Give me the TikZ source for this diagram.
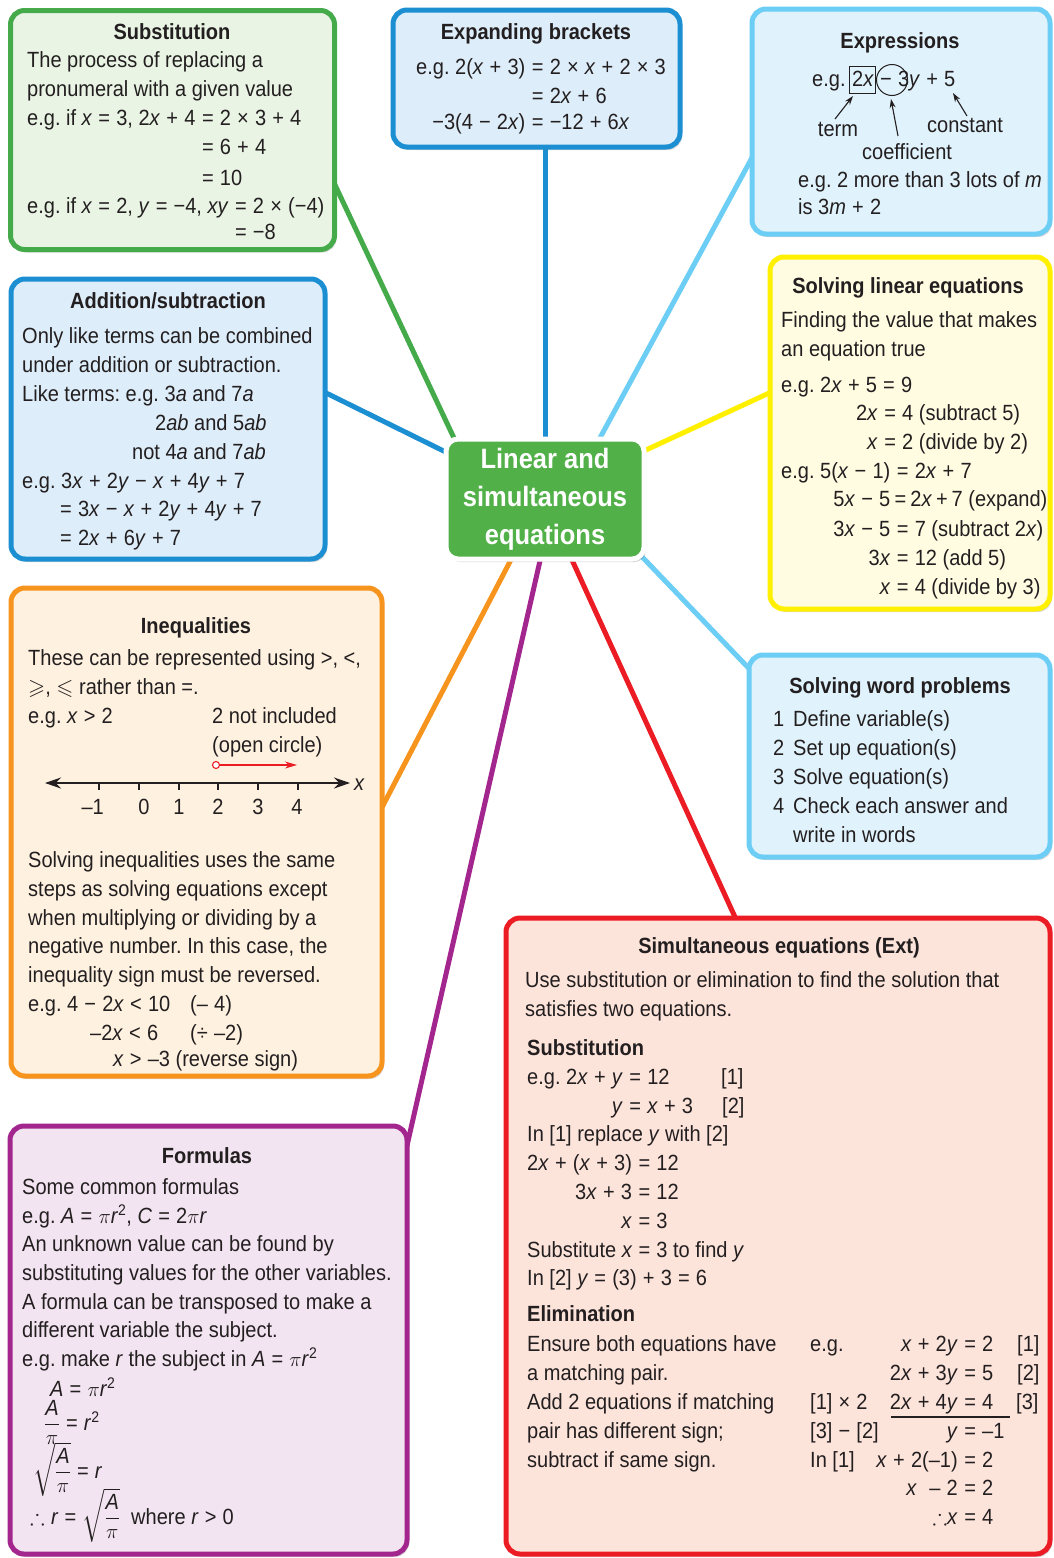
\documentclass[tikz,border=0pt]{standalone}
\usepackage{amsmath,amssymb}
\usepackage{fontspec}
\setmainfont{Liberation Sans}[FakeStretch=0.91]
\usetikzlibrary{arrows.meta,shadows,backgrounds}

\definecolor{cgreen}{RGB}{68,170,74}
\definecolor{fgreen}{RGB}{233,244,229}
\definecolor{cblue}{RGB}{28,143,211}
\definecolor{fblue}{RGB}{221,237,249}
\definecolor{clblue}{RGB}{108,205,245}
\definecolor{flblue}{RGB}{224,242,251}
\definecolor{cyellow}{RGB}{255,240,0}
\definecolor{fyellow}{RGB}{255,252,226}
\definecolor{corange}{RGB}{247,148,30}
\definecolor{forange}{RGB}{254,241,224}
\definecolor{cred}{RGB}{236,28,36}
\definecolor{fred}{RGB}{253,228,219}
\definecolor{cpurple}{RGB}{163,38,143}
\definecolor{fpurple}{RGB}{242,228,240}
\definecolor{cgfill}{RGB}{82,176,72}
\definecolor{ink}{RGB}{35,31,32}

\newcommand{\fs}{\fontsize{22}{26}\selectfont\frenchspacing}
\newcommand{\og}{\kern0.28em}
\newcommand{\ogs}{\kern0.18em}
\newcommand{\eq}{\og=\og}
\newcommand{\pl}{\og+\og}
\newcommand{\mn}{\og−\og}
\newcommand{\tm}{\og×\og}
\newcommand{\iv}[1]{\textit{#1}}
\newcounter{tn}
\newcommand{\Tl}[3]{\stepcounter{tn}\node[txt,anchor=base west] (t\thetn) at (#1,#2) {#3};}
\newcommand{\Tr}[3]{\stepcounter{tn}\node[txt,anchor=base east] (t\thetn) at (#1,#2) {#3};}
\newcommand{\Tc}[3]{\stepcounter{tn}\node[txt,anchor=base] (t\thetn) at (#1,#2) {#3};}
\newcommand{\Hd}[3]{\stepcounter{tn}\node[txt,anchor=base,font=\fs\bfseries] (t\thetn) at (#1,#2) {#3};}
\newcommand{\Bl}[3]{\stepcounter{tn}\node[txt,anchor=base west,font=\fs\bfseries] (t\thetn) at (#1,#2) {#3};}
\newcommand{\Pair}[4]{\Tr{#1}{#2}{#3}\Tl{#1}{#2}{#4}}
\newcommand{\EqA}[5]{\node[txt,anchor=base west] (#1) at (#2,#3) {#4};\node[txt,anchor=base west] (#1r) at (#1.base east) {#5};}
\newcommand{\EqB}[4]{\coordinate (#1y#2) at (0,#2);\node[txt,anchor=base east] (#1l#2) at (#1.base east |- #1y#2) {#3};\node[txt,anchor=base west] (#1c#2) at (#1.base east |- #1y#2) {#4};}

\tikzset{
  txt/.style={font=\fs, inner sep=0pt, text=ink},
  box/.style={draw=#1, line width=5pt, rounded corners=14pt, inner sep=0pt, outer sep=0pt,
    drop shadow={shadow xshift=2pt, shadow yshift=-3pt, opacity=0.25, fill=black!60}},
  ctrbox/.style={draw=white, line width=5pt, fill=cgfill, rounded corners=12pt,
    minimum width=198pt, minimum height=120pt, align=center, text=white, inner sep=0pt,
    font=\bfseries\fontsize{28}{38}\selectfont,
    drop shadow={shadow xshift=2pt, shadow yshift=-3pt, opacity=0.3, fill=black!60}},
  conn/.style={line width=5pt, draw=#1},
  parr/.style={line width=1.1pt, draw=ink, -{Stealth[length=9pt,width=6pt]}},
  numline/.style={line width=1.6pt, draw=ink, {Stealth[length=16pt,width=11pt]}-{Stealth[length=16pt,width=11pt]}},
  redarr/.style={line width=1.1pt, draw=cred, -{Stealth[length=12pt,width=7pt]}},
  tickm/.style={line width=1.3pt, draw=ink}
}

\begin{document}
\begin{tikzpicture}[x=1pt,y=-1pt]
\useasboundingbox (0,0) rectangle (1053,1558);

% ---------- boxes ----------
\node[box=cgreen, fill=fgreen, minimum width=324pt, minimum height=239pt] (sub) at (172.5,130) {};
\node[box=cblue, fill=fblue, minimum width=287pt, minimum height=137pt] (expb) at (536.5,78.5) {};
\node[box=clblue, fill=flblue, minimum width=298pt, minimum height=225pt] (expr) at (901,121.5) {};
\node[box=cblue, fill=fblue, minimum width=314pt, minimum height=280pt] (addb) at (168,419) {};
\node[box=cyellow, fill=fyellow, minimum width=280pt, minimum height=352pt] (lin) at (910,433) {};
\node[box=corange, fill=forange, minimum width=371pt, minimum height=488pt] (ineq) at (196.5,832) {};
\node[box=clblue, fill=flblue, minimum width=301pt, minimum height=202pt] (word) at (899.5,756) {};
\node[box=cred, fill=fred, minimum width=544pt, minimum height=636pt] (sim) at (778,1236) {};
\node[box=cpurple, fill=fpurple, minimum width=397pt, minimum height=428pt] (form) at (208.5,1340) {};
\node[ctrbox] (ctr) at (545,499) {Linear and\\simultaneous\\equations};

% ---------- connectors ----------
\coordinate (gA) at (325.6,165); \coordinate (gB) at (469,470);
\coordinate (bA) at (545,140);   \coordinate (bB) at (545,450);
\coordinate (eA) at (760,143);   \coordinate (eB) at (588,460);
\coordinate (aA) at (316,388);   \coordinate (aB) at (470,464);
\coordinate (yA) at (780,388);   \coordinate (yB) at (620,462);
\coordinate (wA) at (625,539);   \coordinate (wB) at (760,680);
\coordinate (rA) at (567,549);   \coordinate (rB) at (740,928);
\coordinate (oA) at (515,552);   \coordinate (oB) at (378,815);
\coordinate (pA) at (542,552);   \coordinate (pB) at (406,1150);
\begin{scope}[on background layer]
  \fill[white] (0,0) rectangle (1053,1558);
  \draw[conn=cgreen] (gA) -- (gB);
  \draw[conn=cblue] (bA) -- (bB);
  \draw[conn=clblue] (eA) -- (eB);
  \draw[conn=cblue] (aA) -- (aB);
  \draw[conn=cyellow] (yA) -- (yB);
  \draw[conn=clblue] (wA) -- (wB);
  \draw[conn=cred] (rA) -- (rB);
  \draw[conn=corange] (oA) -- (oB);
  \draw[conn=cpurple] (pA) -- (pB);
\end{scope}

% ---------- Substitution ----------
\Hd{172}{39}{Substitution}
\Tl{27}{67}{The process of replacing a}
\Tl{27}{96}{pronumeral with a given value}
\EqA{sa}{27}{125}{e.g. if \iv{x}\eq 3, 2\iv{x}\pl 4}{\og=\og 2\tm 3\pl 4}
\EqB{sa}{154}{}{\og=\og 6\pl 4}
\EqB{sa}{185}{}{\og=\og 10}
\EqA{sb}{27}{213}{e.g. if \iv{x}\eq 2, \iv{y}\eq −4, \iv{xy}}{\og=\og 2\tm (−4)}
\EqB{sb}{239}{}{\og=\og −8}

% ---------- Expanding brackets ----------
\Hd{536}{39}{Expanding brackets}
\EqA{eb}{416}{74}{e.g. 2(\iv{x}\pl 3)}{\og=\og 2\tm \iv{x}\pl 2\tm 3}
\EqB{eb}{103}{}{\og=\og 2\iv{x}\pl 6}
\EqB{eb}{129}{−3(4\mn 2\iv{x})}{\og=\og −12\pl 6\iv{x}}

% ---------- Expressions ----------
\Hd{900}{48}{Expressions}
\node[draw=ink, line width=1pt, minimum width=26pt, minimum height=27pt, inner sep=0pt] (tbox) at (862.5,80) {};
\node[circle, draw=ink, line width=1pt, minimum size=31pt, inner sep=0pt] (cbox) at (892,80) {};
\Tl{812}{86}{e.g.}
\Tl{852}{86}{2\iv{x}}
\Tl{880}{86}{−\og 3\iv{y}\pl 5}
\Tc{838}{136}{term}
\Tl{927}{132}{constant}
\Tl{862}{159}{coefficient}
\coordinate (tmS) at (835,119); \coordinate (tmE) at (853,96);
\coordinate (cfS) at (898,136); \coordinate (cfE) at (891,99);
\coordinate (csS) at (967,116); \coordinate (csE) at (953,93);
\draw[parr] (tmS) -- (tmE);
\draw[parr] (cfS) -- (cfE);
\draw[parr] (csS) -- (csE);
\Tl{798}{187}{e.g. 2 more than 3 lots of \iv{m}}
\Tl{798}{214}{is 3\iv{m}\pl 2}

% ---------- Addition/subtraction ----------
\Hd{168}{308}{Addition/subtraction}
\Tl{22}{343}{Only like terms can be combined}
\Tl{22}{372}{under addition or subtraction.}
\Tl{22}{401}{Like terms: e.g. 3\iv{a} and 7\iv{a}}
\Tl{155}{430}{2\iv{ab} and 5\iv{ab}}
\Tl{132}{459}{not 4\iv{a} and 7\iv{ab}}
\Tl{22}{488}{e.g. 3\iv{x}\pl 2\iv{y}\mn \iv{x}\pl 4\iv{y}\pl 7}
\Tl{60}{516}{=\og 3\iv{x}\mn \iv{x}\pl 2\iv{y}\pl 4\iv{y}\pl 7}
\Tl{60}{545}{=\og 2\iv{x}\pl 6\iv{y}\pl 7}

% ---------- Solving linear equations ----------
\Hd{908}{293}{Solving linear equations}
\Tl{781}{327}{Finding the value that makes}
\Tl{781}{356}{an equation true}
\Tl{781}{392}{e.g. 2\iv{x}\pl 5\eq 9}
\Pair{878}{420}{2\iv{x}}{\og=\og 4 (subtract 5)}
\Pair{878}{449}{\iv{x}}{\og=\og 2 (divide by 2)}
\EqA{lc}{781}{478}{e.g. 5(\iv{x}\mn 1)}{\og=\og 2\iv{x}\pl 7}
\EqB{lc}{506}{5\iv{x}\mn 5}{\ogs=\ogs 2\iv{x}\ogs+\ogs 7 (expand)}
\EqB{lc}{536}{3\iv{x}\mn 5}{\og=\og 7 (subtract 2\iv{x})}
\EqB{lc}{565}{3\iv{x}}{\og=\og 12 (add 5)}
\EqB{lc}{594}{\iv{x}}{\og=\og 4 (divide by 3)}

% ---------- Inequalities ----------
\Hd{196}{633}{Inequalities}
\Tl{28}{665}{These can be represented using >, <,}
\Tl{28}{694}{$\geqslant$, $\leqslant$ rather than =.}
\Tl{28}{723}{e.g. \iv{x}\og>\og 2}
\Tl{212}{723}{2 not included}
\Tl{212}{752}{(open circle)}
\coordinate (nlL) at (45,783); \coordinate (nlR) at (350,783);
\draw[numline] (nlL) -- (nlR);
\foreach \t in {99,139,179,218,258,298} \draw[tickm] (\t,783) -- (\t,790);
\Tr{104}{814}{–1}
\Tc{144}{814}{0}
\Tc{179}{814}{1}
\Tc{218}{814}{2}
\Tc{258}{814}{3}
\Tc{297}{814}{4}
\Tl{354}{790}{\iv{x}}
\node[circle, draw=cred, fill=white, line width=1.1pt, minimum size=7pt, inner sep=0pt] (oc) at (216,765) {};
\coordinate (ocE) at (297,765);
\draw[redarr] (oc) -- (ocE);
\Tl{28}{867}{Solving inequalities uses the same}
\Tl{28}{896}{steps as solving equations except}
\Tl{28}{925}{when multiplying or dividing by a}
\Tl{28}{953}{negative number. In this case, the}
\Tl{28}{982}{inequality sign must be reversed.}
\Tl{28}{1011}{e.g. 4\mn 2\iv{x}\og<\og 10}
\Tl{190}{1011}{(–\og 4)}
\Tl{90}{1040}{–2\iv{x}\og<\og 6}
\Tl{190}{1040}{(÷\og –2)}
\Tl{113}{1066}{\iv{x}\og>\og –3 (reverse sign)}

% ---------- Solving word problems ----------
\Hd{900}{693}{Solving word problems}
\Tl{773}{726}{1} \Tl{793}{726}{Define variable(s)}
\Tl{773}{755}{2} \Tl{793}{755}{Set up equation(s)}
\Tl{773}{784}{3} \Tl{793}{784}{Solve equation(s)}
\Tl{773}{813}{4} \Tl{793}{813}{Check each answer and}
\Tl{793}{842}{write in words}

% ---------- Simultaneous equations ----------
\Hd{779}{953}{Simultaneous equations (Ext)}
\Tl{525}{987}{Use substitution or elimination to find the solution that}
\Tl{525}{1016}{satisfies two equations.}
\Bl{527}{1055}{Substitution}
\EqA{qa}{527}{1084}{e.g. 2\iv{x}\pl \iv{y}}{\og=\og 12}
\EqB{qa}{1113}{\iv{y}}{\og=\og \iv{x}\pl 3}
\Tl{721}{1084}{[1]}
\Tl{722}{1113}{[2]}
\Tl{527}{1141}{In [1] replace \iv{y} with [2]}
\EqA{qb}{527}{1170}{2\iv{x}\pl (\iv{x}\pl 3)}{\og=\og 12}
\EqB{qb}{1199}{3\iv{x}\pl 3}{\og=\og 12}
\EqB{qb}{1228}{\iv{x}}{\og=\og 3}
\Tl{527}{1257}{Substitute \iv{x}\eq 3 to find \iv{y}}
\Tl{527}{1285}{In [2] \iv{y}\eq (3)\pl 3\eq 6}
\Bl{527}{1321}{Elimination}
\Tl{527}{1351}{Ensure both equations have}
\Tl{527}{1380}{a matching pair.}
\Tl{527}{1409}{Add 2 equations if matching}
\Tl{527}{1438}{pair has different sign;}
\Tl{527}{1467}{subtract if same sign.}
\Tl{810}{1351}{e.g.}
\Pair{958}{1351}{\iv{x}\pl 2\iv{y}}{\og=\og 2}
\Tl{1017}{1351}{[1]}
\Pair{958}{1380}{2\iv{x}\pl 3\iv{y}}{\og=\og 5}
\Tl{1017}{1380}{[2]}
\Tl{810}{1409}{[1]\tm 2}
\Pair{958}{1409}{2\iv{x}\pl 4\iv{y}}{\og=\og 4}
\Tl{1016}{1409}{[3]}
\coordinate (ulA) at (891,1417); \coordinate (ulB) at (1010,1417);
\draw[line width=1.3pt, draw=ink] (ulA) -- (ulB);
\Tl{810}{1438}{[3]\mn [2]}
\Pair{958}{1438}{\iv{y}}{\og=\og –1}
\Tl{810}{1467}{In [1]}
\Pair{958}{1467}{\iv{x}\pl 2(–1)}{\og=\og 2}
\Pair{958}{1495}{\iv{x}\og\og–\og 2}{\og=\og 2}
\Pair{958}{1524}{$\therefore$\iv{x}}{\og=\og 4}

% ---------- Formulas ----------
\Hd{207}{1163}{Formulas}
\Tl{22}{1194}{Some common formulas}
\Tl{22}{1223}{e.g. \iv{A}\eq $\pi$\iv{r}\textsuperscript{2}, \iv{C}\eq 2$\pi$\iv{r}}
\Tl{22}{1251}{An unknown value can be found by}
\Tl{22}{1280}{substituting values for the other variables.}
\Tl{22}{1309}{A formula can be transposed to make a}
\Tl{22}{1337}{different variable the subject.}
\Tl{22}{1366}{e.g. make \iv{r} the subject in \iv{A}\eq $\pi$\iv{r}\textsuperscript{2}}
\Tl{50}{1396}{\iv{A}\eq $\pi$\iv{r}\textsuperscript{2}}
\Tl{44}{1430}{$\dfrac{\textit{A}}{\pi}$\eq \iv{r}\textsuperscript{2}}
\Tl{33}{1478}{$\sqrt{\dfrac{\textit{A}}{\pi}}$\eq \iv{r}}
\Tl{30}{1524}{$\therefore$\og\iv{r}\eq $\sqrt{\dfrac{\textit{A}}{\pi}}$}
\Tl{131}{1524}{where \iv{r}\og>\og 0}
\end{tikzpicture}
\end{document}
